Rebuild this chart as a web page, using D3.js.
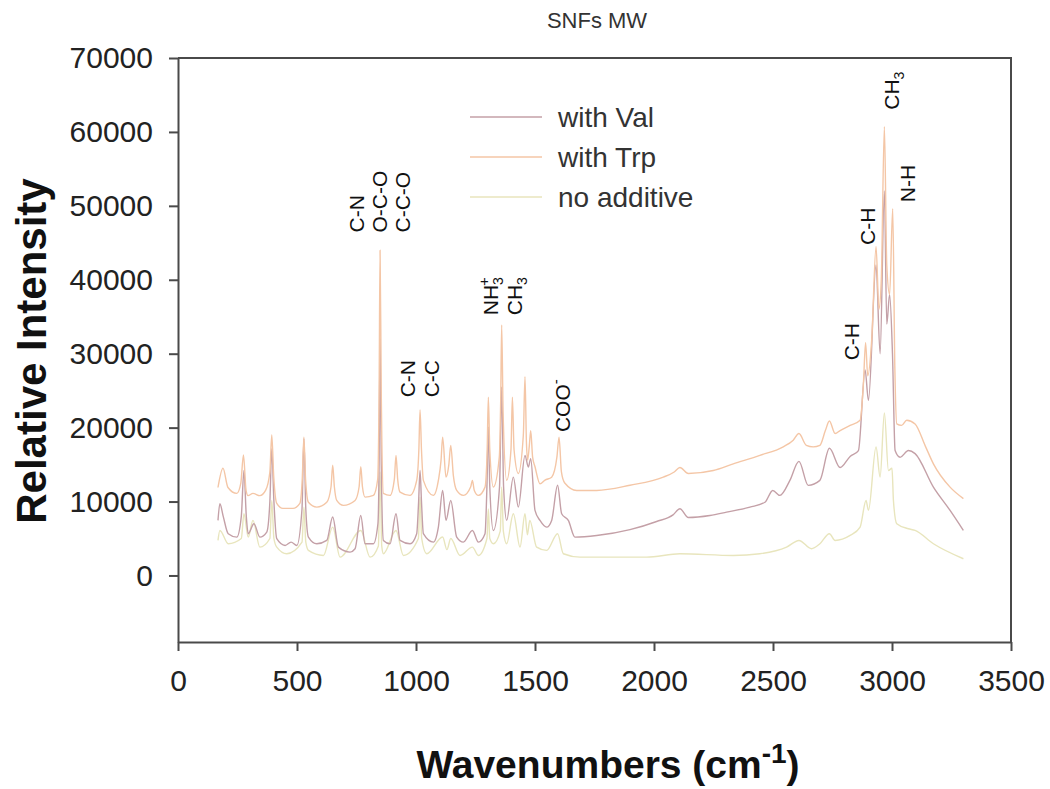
<!DOCTYPE html>
<html>
<head>
<meta charset="utf-8">
<script src="https://cdn.jsdelivr.net/npm/d3@7"></script>
<style>
  html, body { margin: 0; padding: 0; background: #fff; }
  svg { display: block; font-family: "Liberation Sans", Arial, sans-serif; }
</style>
</head>
<body>
<svg id="chart" width="1050" height="789"></svg>
<script>
// ---------- DATA ----------
const chartTitle = "SNFs MW";
const xTicks = [0, 500, 1000, 1500, 2000, 2500, 3000, 3500];
const yTicks = [0, 10000, 20000, 30000, 40000, 50000, 60000, 70000];
const xDomain = [0, 3500];
const yDomain = [-9000, 70000];
const seriesNames = ["with Val", "with Trp", "no additive"];

// [wavenumber, intensity]
const withTrp = [
  [168, 11900], [189, 14500], [210, 11900], [247, 11100], [264, 12500], [275, 16300], [286, 11500],
  [294, 10800], [315, 11100], [344, 10800], [368, 11500], [386, 14000], [394, 19000], [402, 13500],
  [415, 9750], [441, 9070], [483, 9070], [512, 9750], [522, 13000], [529, 18700], [536, 13000],
  [548, 9900], [583, 9250], [625, 9900], [643, 12000], [650, 14900], [657, 12000], [667, 10150],
  [695, 9480], [744, 10150], [761, 12000], [768, 14700], [775, 12000], [786, 10600], [821, 10830],
  [839, 13000], [845, 25000], [849, 44000], [854, 25000], [863, 11100], [891, 10830], [909, 13000],
  [916, 16250], [923, 13000], [933, 11280], [975, 10830], [1003, 12860], [1012, 17000], [1017, 22400],
  [1023, 17000], [1031, 12860], [1073, 10830], [1094, 12860], [1105, 15500], [1112, 18700],
  [1126, 13300], [1138, 15000], [1146, 17600], [1157, 13500], [1171, 11500], [1199, 10830],
  [1230, 12000], [1237, 12860], [1245, 11500], [1262, 10830], [1290, 11950], [1299, 17000],
  [1304, 24100], [1310, 17000], [1325, 11950], [1350, 16000], [1356, 24000], [1360, 33900],
  [1366, 22000], [1381, 12860], [1399, 17000], [1405, 24100], [1412, 17000], [1430, 13800],
  [1451, 19000], [1458, 26900], [1464, 18000], [1469, 15600], [1476, 17500], [1482, 19600],
  [1490, 16000], [1500, 14700], [1521, 12400], [1542, 12900], [1570, 13300], [1592, 16000],
  [1601, 18700], [1611, 14000], [1625, 12500], [1675, 11500], [1759, 11500], [1899, 12200],
  [2039, 13300], [2085, 14000], [2109, 14600], [2144, 13800], [2249, 14200], [2333, 15100],
  [2445, 16250], [2543, 17400], [2585, 18300], [2609, 19200], [2640, 17600], [2669, 17400],
  [2697, 17600], [2720, 19600], [2737, 20900], [2761, 19200], [2782, 19600], [2824, 20300],
  [2866, 21000], [2880, 26000], [2889, 31500], [2898, 27000], [2915, 32000], [2933, 44500],
  [2945, 36000], [2955, 40000], [2968, 60700], [2978, 42000], [2990, 38000], [3003, 49600],
  [3012, 28000], [3020, 20500], [3040, 20300], [3062, 21000], [3097, 20500], [3140, 17500],
  [3174, 15100], [3244, 11950], [3300, 10400]
];

const withVal = [
  [168, 7450], [176, 9700], [190, 8000], [211, 5650], [247, 5190], [266, 8000], [277, 14200],
  [287, 8000], [295, 5650], [319, 7000], [344, 5190], [373, 5870], [386, 10000], [394, 17150],
  [403, 10000], [415, 4970], [450, 4060], [475, 4510], [499, 4060], [521, 9000], [529, 18500],
  [537, 9000], [548, 5190], [583, 4290], [625, 4740], [650, 7900], [674, 3830], [723, 3160],
  [744, 3610], [768, 8120], [786, 4290], [821, 4290], [840, 7000], [845, 15000], [849, 32000],
  [854, 15000], [863, 4740], [891, 4290], [916, 8350], [933, 4740], [975, 4290], [1003, 5650],
  [1011, 10000], [1017, 14200], [1023, 10000], [1031, 5650], [1073, 4510], [1094, 6540],
  [1112, 11500], [1126, 7450], [1146, 10150], [1171, 5190], [1199, 4510], [1237, 6090],
  [1262, 4510], [1290, 5650], [1298, 12000], [1304, 20100], [1310, 12000], [1325, 6090],
  [1351, 12000], [1360, 25500], [1368, 12000], [1381, 7450], [1409, 13300], [1430, 9250],
  [1458, 16250], [1472, 14660], [1482, 15800], [1500, 8800], [1521, 7450], [1549, 6540],
  [1570, 7450], [1595, 12200], [1612, 8350], [1640, 7450], [1668, 5190], [1759, 5400],
  [1899, 6200], [2011, 7300], [2080, 8200], [2109, 9030], [2144, 7850], [2235, 8120],
  [2305, 8570], [2403, 9250], [2466, 9900], [2499, 11500], [2529, 10830], [2571, 12860],
  [2609, 15440], [2648, 12190], [2697, 12860], [2737, 17200], [2782, 14600], [2824, 16100],
  [2859, 16900], [2887, 27800], [2901, 23700], [2933, 42000], [2950, 30000], [2968, 52000],
  [2978, 34000], [2990, 38000], [3002, 30000], [3013, 16900], [3034, 16000], [3069, 16900],
  [3097, 16480], [3174, 11950], [3244, 8800], [3300, 6090]
];

const noAdditive = [
  [168, 4740], [176, 6090], [211, 4290], [266, 5000], [277, 8350], [295, 5190], [315, 7450],
  [344, 3830], [386, 5000], [394, 10150], [403, 5000], [415, 3830], [457, 2940], [521, 4500],
  [529, 9250], [537, 4500], [548, 3390], [611, 2710], [650, 6540], [681, 2480], [768, 6090],
  [807, 2480], [842, 4000], [849, 14000], [856, 4000], [863, 2940], [916, 6090], [947, 2710],
  [1010, 5000], [1017, 10600], [1024, 5000], [1045, 2940], [1112, 5200], [1130, 3500],
  [1146, 5000], [1185, 2710], [1237, 3830], [1262, 2710], [1298, 5000], [1304, 9000],
  [1310, 5000], [1325, 4290], [1354, 6000], [1360, 11950], [1367, 6000], [1381, 4290],
  [1409, 8350], [1437, 3830], [1458, 8350], [1468, 5500], [1478, 7450], [1507, 3830],
  [1549, 3390], [1595, 5650], [1619, 2940], [1689, 2480], [1969, 2480], [2109, 2940],
  [2333, 2710], [2445, 2940], [2557, 3830], [2609, 4740], [2662, 3610], [2697, 4290],
  [2737, 5650], [2761, 4740], [2824, 5420], [2866, 6540], [2891, 10150], [2901, 8800],
  [2933, 17400], [2950, 13300], [2968, 22000], [2985, 14200], [3000, 14500], [3006, 10150],
  [3020, 7000], [3069, 6320], [3097, 6090], [3174, 4290], [3300, 2260]
];

// peak annotations: label parts, wavenumber position, intensity at label start
const peakLabels = [
  { parts: [["C-N", ""]], wn: 752, at: 46400 },
  { parts: [["O-C-O", ""]], wn: 849, at: 46400 },
  { parts: [["C-C-O", ""]], wn: 945, at: 46400 },
  { parts: [["C-N", ""]], wn: 966, at: 24100 },
  { parts: [["C-C", ""]], wn: 1067, at: 24100 },
  { parts: [["NH", ""], ["3", "sub"], ["+", "supstack"]], wn: 1315, at: 35200 },
  { parts: [["CH", ""], ["3", "sub"]], wn: 1416, at: 35200 },
  { parts: [["COO", ""], ["-", "sup"]], wn: 1618, at: 19400 },
  { parts: [["C-H", ""]], wn: 2832, at: 29100 },
  { parts: [["C-H", ""]], wn: 2899, at: 44700 },
  { parts: [["CH", ""], ["3", "sub"]], wn: 3000, at: 63000 },
  { parts: [["N-H", ""]], wn: 3067, at: 50500 }
];

// ---------- LAYOUT ----------
const W = 1050, H = 789;
const plot = { left: 178, right: 1011, top: 58, bottom: 642 };
const colors = { "with Val": "#c4a0a7", "with Trp": "#f4c6a6", "no additive": "#e8e5bd" };
const axisColor = "#4a4a4a";

const svg = d3.select("#chart");
const x = d3.scaleLinear().domain(xDomain).range([plot.left, plot.right]);
const y = d3.scaleLinear().domain(yDomain).range([plot.bottom, plot.top]);

// title
svg.append("text")
  .attr("x", 597).attr("y", 28)
  .attr("text-anchor", "middle")
  .attr("font-size", 22).attr("fill", "#333")
  .text(chartTitle);

// series
const line = d3.line().x(d => x(d[0])).y(d => y(d[1])).curve(d3.curveMonotoneX);
const seriesData = [
  { name: "no additive", values: noAdditive },
  { name: "with Val", values: withVal },
  { name: "with Trp", values: withTrp }
];
svg.append("g").selectAll("path").data(seriesData).join("path")
  .attr("d", d => line(d.values))
  .attr("fill", "none")
  .attr("stroke", d => colors[d.name])
  .attr("stroke-width", 1.4)
  .attr("stroke-linejoin", "round");

// axes
const xAxis = d3.axisBottom(x).tickValues(xTicks).tickSize(9).tickSizeOuter(0).tickPadding(19)
  .tickFormat(d3.format("d"));
const yAxis = d3.axisLeft(y).tickValues(yTicks).tickSize(9).tickSizeOuter(0).tickPadding(16)
  .tickFormat(d3.format("d"));

const gx = svg.append("g").attr("transform", `translate(0,${plot.bottom})`).call(xAxis);
const gy = svg.append("g").attr("transform", `translate(${plot.left},0)`).call(yAxis);
[gx, gy].forEach(g => {
  g.select(".domain").attr("stroke", axisColor).attr("stroke-width", 2);
  g.selectAll(".tick line").attr("stroke", axisColor).attr("stroke-width", 2);
  g.selectAll(".tick text").attr("font-size", 30).attr("fill", "#222")
    .attr("font-family", "'Liberation Sans', Arial, sans-serif");
});

// frame top & right
svg.append("path")
  .attr("d", `M${plot.left},${plot.top}H${plot.right}V${plot.bottom}`)
  .attr("fill", "none").attr("stroke", axisColor).attr("stroke-width", 2);

// axis titles
svg.append("text")
  .attr("transform", `translate(46,${(plot.top + plot.bottom) / 2 + 1}) rotate(-90)`)
  .attr("text-anchor", "middle")
  .attr("font-size", 42).attr("font-weight", "bold").attr("fill", "#111")
  .text("Relative Intensity");

const xt = svg.append("text")
  .attr("x", 608).attr("y", 778)
  .attr("text-anchor", "middle")
  .attr("font-size", 39).attr("font-weight", "bold").attr("fill", "#111");
xt.append("tspan").text("Wavenumbers (cm");
xt.append("tspan").attr("font-size", 28).attr("dy", -15).text("-1");
xt.append("tspan").attr("dy", 15).text(")");

// legend
const legendOrder = ["with Val", "with Trp", "no additive"];
const lg = svg.append("g");
legendOrder.forEach((name, i) => {
  const ly = 117 + i * 40;
  lg.append("line").attr("x1", 470).attr("x2", 542).attr("y1", ly).attr("y2", ly)
    .attr("stroke", colors[name]).attr("stroke-width", 1.5);
  lg.append("text").attr("x", 558).attr("y", ly).attr("dy", "0.35em")
    .attr("font-size", 28).attr("fill", "#333").text(name);
});

// peak labels
const pl = svg.append("g");
peakLabels.forEach(p => {
  const t = pl.append("text")
    .attr("transform", `translate(${x(p.wn) + 7},${y(p.at)}) rotate(-90)`)
    .attr("font-size", 21).attr("fill", "#111");
  p.parts.forEach(([s, kind]) => {
    const ts = t.append("tspan").text(s);
    if (kind === "sub") ts.attr("font-size", 14).attr("dy", 5);
    if (kind === "sup") ts.attr("font-size", 15).attr("dy", -9);
    if (kind === "supstack") ts.attr("font-size", 15).attr("dx", -9).attr("dy", -14);
  });
});
</script>
</body>
</html>
